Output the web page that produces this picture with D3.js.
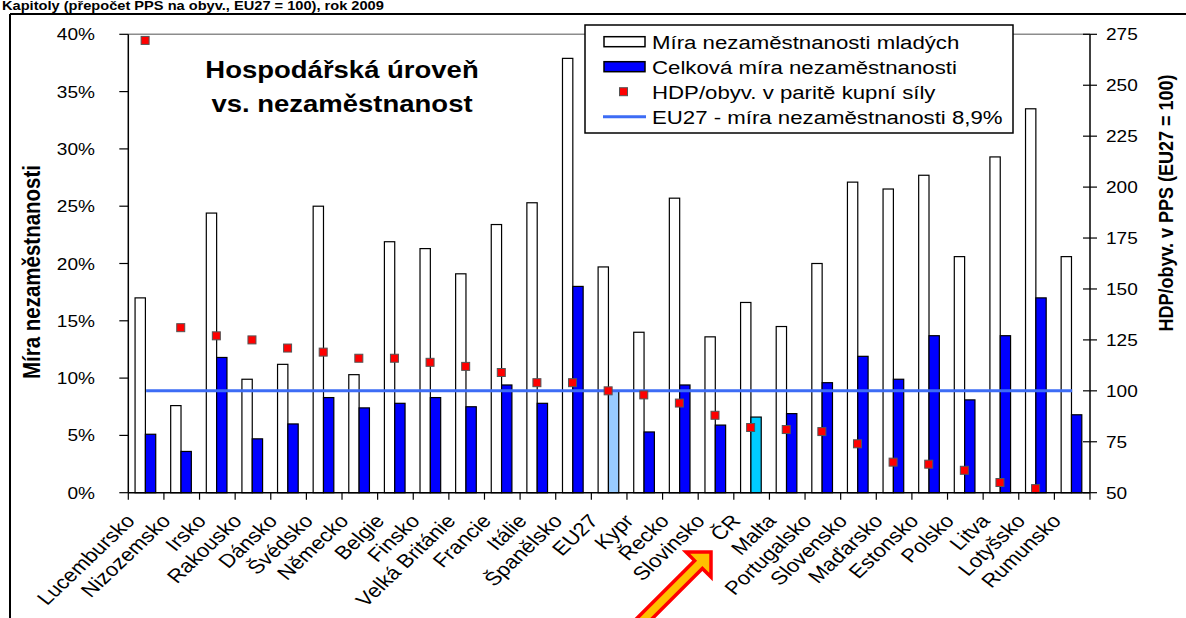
<!DOCTYPE html>
<html lang="cs">
<head>
<meta charset="UTF-8">
<script src="https://cdn.jsdelivr.net/npm/d3@7"></script>
<style>
    body { margin: 0; background: #fff; }
    svg { display: block; font-family: Arial, "Liberation Sans", sans-serif; }
</style>
</head>
<body>
<svg id="chart" width="1186" height="618"></svg>
<script>
    // countries in the order of the chart
    var categories = ["Lucembursko", "Nizozemsko", "Irsko", "Rakousko", "Dánsko", "Švédsko",
        "Německo", "Belgie", "Finsko", "Velká Británie", "Francie", "Itálie", "Španělsko",
        "EU27", "Kypr", "Řecko", "Slovinsko", "ČR", "Malta", "Portugalsko", "Slovensko",
        "Maďarsko", "Estonsko", "Polsko", "Litva", "Lotyšsko", "Rumunsko"];
    // youth unemployment rate (%)
    var youthRate = [17.0, 7.6, 24.4, 9.9, 11.2, 25.0, 10.3, 21.9, 21.3, 19.1, 23.4, 25.3, 37.9,
        19.7, 14.0, 25.7, 13.6, 16.6, 14.5, 20.0, 27.1, 26.5, 27.7, 20.6, 29.3, 33.5, 20.6];
    // total unemployment rate (%)
    var totalRate = [5.1, 3.6, 11.8, 4.7, 6.0, 8.3, 7.4, 7.8, 8.3, 7.5, 9.4, 7.8, 18.0,
        8.9, 5.3, 9.4, 5.9, 6.6, 6.9, 9.6, 11.9, 9.9, 13.7, 8.1, 13.7, 17.0, 6.8];
    // GDP per capita in PPS (EU27 = 100); Rumunsko is below the axis minimum
    var gdpPPS = [272, 131, 127, 125, 121, 119, 116, 116, 114, 112, 109, 104, 104,
        100, 98, 94, 88, 82, 81, 80, 74, 65, 64, 61, 55, 52, null];
    var eu27Rate = 8.9;
    var leftTicks = [0, 5, 10, 15, 20, 25, 30, 35, 40];
    var rightTicks = [50, 75, 100, 125, 150, 175, 200, 225, 250, 275];
    var legendLabels = ["Míra nezaměstnanosti mladých", "Celková míra nezaměstnanosti",
        "HDP/obyv. v paritě kupní síly", "EU27 - míra nezaměstnanosti 8,9%"];

    // the original picture is stretched horizontally, so text is too
    var SX = 1.17;
    var plot = { left: 128.3, right: 1090, top: 34.3, bottom: 492.7 };

    var svg = d3.select("#chart");

    var x = d3.scaleBand().domain(categories).range([plot.left, plot.right]);
    var bw = x.bandwidth();
    var xs = d3.scaleBand().domain(["youth", "total"]).range([bw * 0.19, bw * 0.77]);
    var yL = d3.scaleLinear().domain([0, 40]).range([plot.bottom, plot.top]);
    var yR = d3.scaleLinear().domain([50, 275]).range([plot.bottom, plot.top]);

    // helper: horizontally stretched text
    function sText(g, px, py, str, size, anchor, weight, rot) {
        return g.append("text")
            .attr("transform", "translate(" + px + "," + py + ") scale(" + SX + ",1)" + (rot ? " rotate(" + rot + ")" : ""))
            .attr("text-anchor", anchor || "start")
            .attr("font-size", size)
            .attr("font-weight", weight || "normal")
            .attr("fill", "#000")
            .text(str);
    }

    // heading above the frame and outer frame
    sText(svg, 2, 10, "Kapitoly (přepočet PPS na obyv., EU27 = 100), rok 2009", 12.5, "start", "bold");
    svg.append("line").attr("x1", 10).attr("x2", 1186).attr("y1", 14).attr("y2", 14)
        .attr("stroke", "#000").attr("stroke-width", 2);
    svg.append("line").attr("x1", 10).attr("x2", 10).attr("y1", 14).attr("y2", 618)
        .attr("stroke", "#000").attr("stroke-width", 2);

    // plot top border
    svg.append("line").attr("x1", plot.left).attr("x2", plot.right)
        .attr("y1", plot.top).attr("y2", plot.top)
        .attr("stroke", "#8c8c8c").attr("stroke-width", 1.5);

    // bars
    var groups = svg.append("g").selectAll("g")
        .data(categories).enter().append("g")
        .attr("transform", function(d) { return "translate(" + x(d) + ",0)"; });

    groups.append("rect")
        .attr("x", xs("youth")).attr("width", xs.bandwidth())
        .attr("y", function(d, i) { return yL(youthRate[i]); })
        .attr("height", function(d, i) { return plot.bottom - yL(youthRate[i]); })
        .attr("fill", "#fff").attr("stroke", "#000").attr("stroke-width", 1.2);

    groups.append("rect")
        .attr("x", xs("total")).attr("width", xs.bandwidth())
        .attr("y", function(d, i) { return yL(totalRate[i]); })
        .attr("height", function(d, i) { return plot.bottom - yL(totalRate[i]); })
        .attr("fill", function(d) {
            if (d == "EU27") return "#99ccff";
            if (d == "ČR") return "#00ccff";
            return "#0000ff";
        })
        .attr("stroke", "#000").attr("stroke-width", 1.2);

    // EU27 average line
    svg.append("line")
        .attr("x1", x(categories[0]) + bw / 2)
        .attr("x2", x(categories[categories.length - 1]) + bw / 2)
        .attr("y1", yL(eu27Rate)).attr("y2", yL(eu27Rate))
        .attr("stroke", "#3d6cf5").attr("stroke-width", 3);

    // GDP markers
    svg.append("g").selectAll("rect")
        .data(categories.filter(function(d, i) { return gdpPPS[i] != null; }))
        .enter().append("rect")
        .attr("x", function(d) { return x(d) + bw / 2 - 1 - 4; })
        .attr("y", function(d) { return yR(gdpPPS[categories.indexOf(d)]) - 4; })
        .attr("width", 8).attr("height", 8)
        .attr("fill", "#ff0000").attr("stroke", "#555").attr("stroke-width", 1);

    // left axis
    var gL = svg.append("g");
    gL.append("line").attr("x1", plot.left).attr("x2", plot.left)
        .attr("y1", plot.top).attr("y2", plot.bottom).attr("stroke", "#000").attr("stroke-width", 1.5);
    leftTicks.forEach(function(t) {
        gL.append("line").attr("x1", plot.left - 9).attr("x2", plot.left)
            .attr("y1", yL(t)).attr("y2", yL(t)).attr("stroke", "#000").attr("stroke-width", 1.2);
        sText(gL, 95, yL(t) + 6, t + "%", 16.3, "end");
    });

    // right axis
    var gR = svg.append("g");
    gR.append("line").attr("x1", plot.right).attr("x2", plot.right)
        .attr("y1", plot.top).attr("y2", plot.bottom).attr("stroke", "#000").attr("stroke-width", 1.5);
    rightTicks.forEach(function(t) {
        gR.append("line").attr("x1", plot.right - 7).attr("x2", plot.right + 7)
            .attr("y1", yR(t)).attr("y2", yR(t)).attr("stroke", "#000").attr("stroke-width", 1.2);
        sText(gR, 1106, yR(t) + 6, String(t), 16.3, "start");
    });

    // bottom axis
    var gB = svg.append("g");
    gB.append("line").attr("x1", plot.left).attr("x2", plot.right)
        .attr("y1", plot.bottom).attr("y2", plot.bottom).attr("stroke", "#000").attr("stroke-width", 1.5);
    categories.concat([null]).forEach(function(d) {
        var px = d == null ? plot.right : x(d);
        gB.append("line").attr("x1", px).attr("x2", px)
            .attr("y1", plot.bottom).attr("y2", plot.bottom + 7).attr("stroke", "#000").attr("stroke-width", 1.2);
    });
    categories.forEach(function(d) {
        sText(gB, x(d) + bw / 2 - 10, plot.bottom + 29, d, 19, "end", "normal", -48);
    });

    // axis titles
    sText(svg, 40, 272, "Míra nezaměstnanosti", 20.5, "middle", "bold", -90);
    sText(svg, 1173, 203, "HDP/obyv. v PPS (EU27 = 100)", 18, "middle", "bold", -90);

    // chart heading inside the plot
    sText(svg, 342, 78, "Hospodářská úroveň", 23.5, "middle", "bold");
    sText(svg, 342, 112, "vs. nezaměstnanost", 23.5, "middle", "bold");

    // legend
    var lg = svg.append("g");
    lg.append("rect").attr("x", 585).attr("y", 25).attr("width", 428).attr("height", 108)
        .attr("fill", "#fff").attr("stroke", "#000").attr("stroke-width", 1.5);
    var rowY = [41.7, 66.7, 91.7, 116.7];
    lg.append("rect").attr("x", 604).attr("y", rowY[0] - 5).attr("width", 41).attr("height", 10)
        .attr("fill", "#fff").attr("stroke", "#000").attr("stroke-width", 1.5);
    lg.append("rect").attr("x", 604).attr("y", rowY[1] - 5).attr("width", 41).attr("height", 10)
        .attr("fill", "#0000ff").attr("stroke", "#000").attr("stroke-width", 1.5);
    lg.append("rect").attr("x", 619.5).attr("y", rowY[2] - 4).attr("width", 8).attr("height", 8)
        .attr("fill", "#ff0000").attr("stroke", "#555").attr("stroke-width", 1);
    lg.append("line").attr("x1", 603).attr("x2", 646).attr("y1", rowY[3]).attr("y2", rowY[3])
        .attr("stroke", "#3d6cf5").attr("stroke-width", 3);
    legendLabels.forEach(function(l, i) {
        sText(lg, 652, rowY[i] + 6.8, l, 19, "start");
    });

    // pointer arrow towards ČR (tip at top right, tail runs off the bottom)
    var arrow = "M0,0 L-17.7,-17.7 L-17.7,-5.5 L-150,-5.5 L-150,5.5 L-17.7,5.5 L-17.7,17.7 Z";
    svg.append("path")
        .attr("d", arrow)
        .attr("transform", "translate(711,552) rotate(-45)")
        .attr("fill", "#ffc000").attr("stroke", "#ff0000").attr("stroke-width", 3.5)
        .attr("stroke-linejoin", "miter");
</script>
</body>
</html>
